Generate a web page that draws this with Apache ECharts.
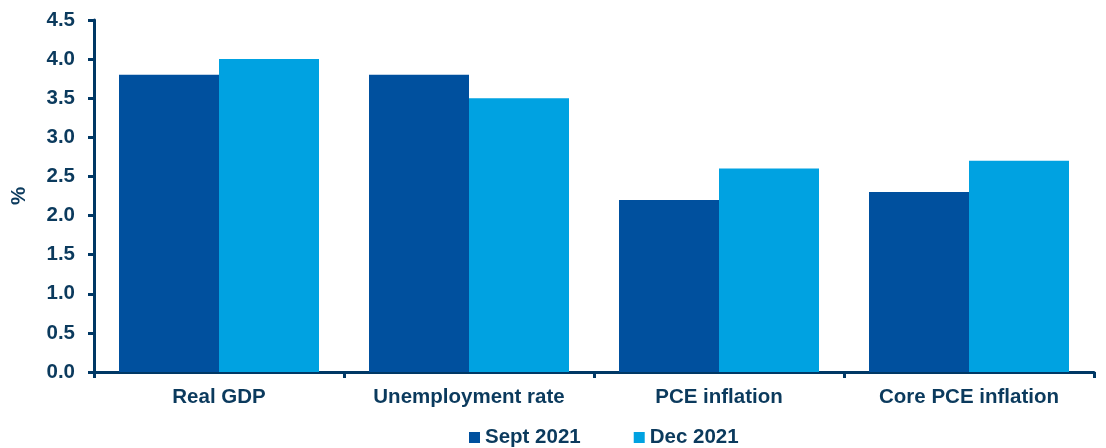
<!DOCTYPE html>
<html><head><meta charset="utf-8">
<script src="https://cdn.jsdelivr.net/npm/echarts@6/dist/echarts.min.js"></script>
<style>html,body{margin:0;padding:0;background:#fff}#c{width:1106px;height:448px}</style>
</head><body><div id="c"></div>
<script>
const categories = ["Real GDP", "Unemployment rate", "PCE inflation", "Core PCE inflation"];
const sept2021 = [3.8, 3.8, 2.2, 2.3];
const dec2021 = [4.0, 3.5, 2.6, 2.7];
const seriesNames = ["Sept 2021", "Dec 2021"];

const txt = '#0b3a5d';
const axisCol = '#003865';
const font = 'Liberation Sans, Arial, sans-serif';
const fs = 20.5;
const chart = echarts.init(document.getElementById('c'));
chart.setOption({
  animation: false,
  grid: {left: 94, right: 12, top: 20, bottom: 76},
  legend: {
    top: 427, left: 469, itemWidth: 11, itemHeight: 11, itemGap: 53,
    icon: 'rect', padding: 0,
    textStyle: {color: txt, fontSize: fs, fontWeight: 'bold', fontFamily: font},
    data: seriesNames
  },
  xAxis: {
    type: 'category', data: categories,
    axisLine: {lineStyle: {color: axisCol, width: 3}},
    axisTick: {show: true, length: 6, lineStyle: {color: axisCol, width: 3}},
    axisLabel: {color: txt, fontSize: fs, fontWeight: 'bold', fontFamily: font, margin: 15}
  },
  yAxis: {
    type: 'value', min: 0, max: 4.5, interval: 0.5,
    name: '%', nameLocation: 'middle', nameGap: 64, nameRotate: 90,
    nameTextStyle: {color: txt, fontSize: fs, fontWeight: 'bold', fontFamily: font},
    splitLine: {show: false},
    axisLine: {show: true, lineStyle: {color: axisCol, width: 3}},
    axisTick: {show: true, length: 6, lineStyle: {color: axisCol, width: 3}},
    axisLabel: {color: txt, fontSize: fs, fontWeight: 'bold', fontFamily: font, margin: 19,
      formatter: v => v.toFixed(1)}
  },
  series: [
    {name: seriesNames[0], type: 'bar', data: sept2021, itemStyle: {color: '#00509e'}, barGap: '0%', barCategoryGap: '20%'},
    {name: seriesNames[1], type: 'bar', data: dec2021, itemStyle: {color: '#00a2e1'}, barGap: '0%', barCategoryGap: '20%'}
  ]
});
</script></body></html>
